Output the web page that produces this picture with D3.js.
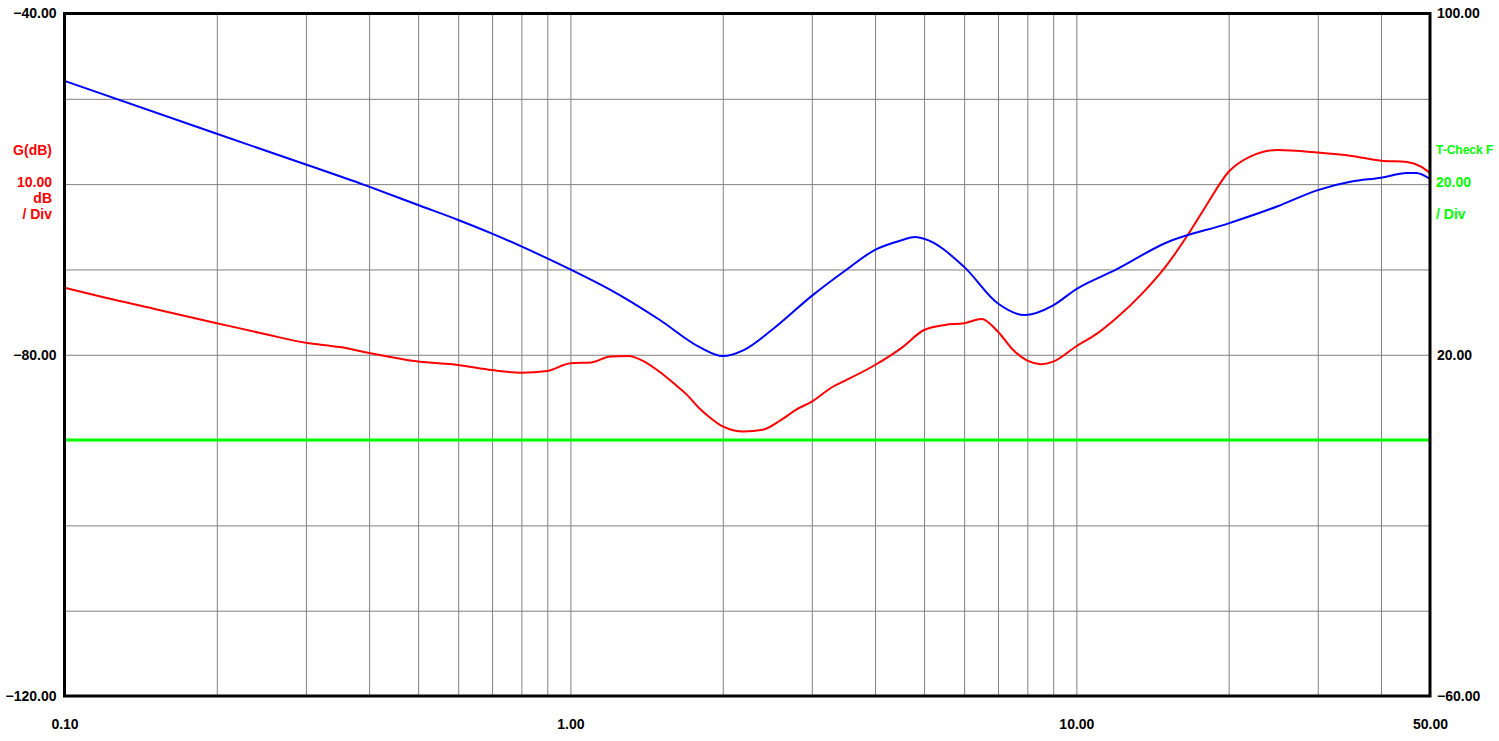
<!DOCTYPE html>
<html>
<head>
<meta charset="utf-8">
<script src="https://cdn.jsdelivr.net/npm/d3@7"></script>
<style>
  html, body { margin: 0; padding: 0; background: #fff; }
  svg { display: block; }
  text { font-family: "Liberation Sans", Arial, sans-serif; font-weight: bold; font-size: 14px; }
</style>
</head>
<body>
<svg id="chart" width="1499" height="741"></svg>
<script>
// ---- data ----
const freqTicks = [0.1, 1, 10, 50];
const leftTicks = [-40, -80, -120];
const rightTicks = [100, 20, -60];

// G(dB) trace (red), left axis
const gainFreq = [0.1, 0.12, 0.15, 0.2, 0.25, 0.3, 0.35, 0.4, 0.5, 0.6, 0.7, 0.8, 0.9, 1.0, 1.1, 1.2, 1.3, 1.4, 1.5, 1.6, 1.7, 1.8, 1.9, 2.0, 2.2, 2.4, 2.6, 2.8, 3.0, 3.3, 3.5, 4.0, 4.5, 5.0, 5.5, 6.0, 6.5, 7.0, 7.5, 8.0, 8.5, 9.0, 10, 11, 12, 13.5, 15, 16.5, 18, 20, 22, 25, 30, 35, 40, 45, 48, 50];
const gainDb   = [-72.15, -73.3, -74.6, -76.3, -77.6, -78.6, -79.1, -79.8, -80.8, -81.2, -81.8, -82.1, -81.9, -81.0, -80.9, -80.2, -80.15, -80.8, -82.0, -83.35, -84.7, -86.3, -87.5, -88.4, -89.0, -88.8, -87.7, -86.4, -85.5, -83.75, -83.0, -81.2, -79.25, -77.1, -76.5, -76.3, -75.8, -77.3, -79.45, -80.7, -81.1, -80.8, -79.0, -77.5, -75.7, -72.8, -69.7, -66.2, -62.65, -58.55, -56.8, -56.0, -56.3, -56.7, -57.25, -57.4, -57.95, -58.7];

// blue trace, expressed on left-axis units
const blueFreq = [0.1, 0.2, 0.3, 0.4, 0.5, 0.6, 0.7, 0.8, 0.9, 1.0, 1.2, 1.5, 1.8, 2.0, 2.2, 2.5, 3.0, 3.5, 4.0, 4.5, 4.8, 5.0, 6.0, 7.0, 7.9, 9.0, 10, 12, 15, 20, 25, 30, 35, 40, 45, 47, 50];
const blueVal  = [-47.9, -54.1, -57.7, -60.3, -62.45, -64.2, -65.8, -67.3, -68.7, -70.0, -72.4, -75.9, -79.1, -80.15, -79.45, -77.1, -73.1, -70.1, -67.7, -66.6, -66.2, -66.4, -69.7, -74.0, -75.35, -74.2, -72.3, -70.0, -66.9, -64.6, -62.6, -60.7, -59.7, -59.25, -58.7, -58.7, -59.4];

// T-Check trace (green), right axis
const checkFreq = [0.1, 50];
const checkVal  = [0, 0];

// ---- scales ----
const svg = d3.select("#chart");
const L = 64.5, R = 1430, T = 13.5, B = 696;
const x = d3.scaleLog().domain([0.1, 50]).range([L, R]);
const yL = d3.scaleLinear().domain([-120, -40]).range([B, T]);
const yR = d3.scaleLinear().domain([-60, 100]).range([B, T]);

// ---- grid ----
const gridFreqs = [];
for (let e = -1; e <= 1; e++) for (let m = 1; m <= 9; m++) {
  const f = +(m * Math.pow(10, e)).toPrecision(3);
  if (f > 0.1 && f < 50) gridFreqs.push(f);
}
const gridX = svg.append("g").attr("transform", `translate(0,${B})`)
  .call(d3.axisBottom(x).tickValues(gridFreqs).tickSize(-(B - T)).tickFormat(""));
gridX.select(".domain").remove();
gridX.selectAll("line").attr("stroke", "#808080").attr("stroke-width", 1);

const gridY = svg.append("g").attr("transform", `translate(${L},0)`)
  .call(d3.axisLeft(yL).tickValues(d3.range(-110, -40, 10)).tickSize(-(R - L)).tickFormat(""));
gridY.select(".domain").remove();
gridY.selectAll("line").attr("stroke", "#808080").attr("stroke-width", 1);

// ---- traces ----
const lineL = d3.line().x(d => x(d[0])).y(d => yL(d[1])).curve(d3.curveMonotoneX);
const lineR = d3.line().x(d => x(d[0])).y(d => yR(d[1]));

svg.append("path").datum(d3.zip(checkFreq, checkVal)).attr("d", lineR)
  .attr("fill", "none").attr("stroke", "#00ff00").attr("stroke-width", 3);
svg.append("path").datum(d3.zip(gainFreq, gainDb)).attr("d", lineL)
  .attr("fill", "none").attr("stroke", "#ff0000").attr("stroke-width", 2);
svg.append("path").datum(d3.zip(blueFreq, blueVal)).attr("d", lineL)
  .attr("fill", "none").attr("stroke", "#0000ff").attr("stroke-width", 2);

// ---- frame ----
svg.append("rect").attr("x", L).attr("y", T).attr("width", R - L).attr("height", B - T)
  .attr("fill", "none").attr("stroke", "#000").attr("stroke-width", 3);

// ---- axes labels ----
const fmt = d3.format(".2f");
const axB = svg.append("g").attr("transform", `translate(0,${B})`)
  .call(d3.axisBottom(x).tickValues(freqTicks).tickFormat(fmt).tickSize(0).tickPadding(23));
axB.select(".domain").remove();
axB.selectAll("text").attr("fill", "#000").style("font-size", "14px").style("font-family", "Liberation Sans, Arial, sans-serif");

const axL = svg.append("g").attr("transform", `translate(${L},0)`)
  .call(d3.axisLeft(yL).tickValues(leftTicks).tickFormat(fmt).tickSize(0).tickPadding(8));
axL.select(".domain").remove();
axL.selectAll("text").attr("fill", "#000").style("font-size", "14px").style("font-family", "Liberation Sans, Arial, sans-serif");

const axR = svg.append("g").attr("transform", `translate(${R},0)`)
  .call(d3.axisRight(yR).tickValues(rightTicks).tickFormat(fmt).tickSize(0).tickPadding(7));
axR.select(".domain").remove();
axR.selectAll("text").attr("fill", "#000").style("font-size", "14px").style("font-family", "Liberation Sans, Arial, sans-serif");

// ---- channel labels ----
const leftLab = [["G(dB)", 150], ["10.00", 182], ["dB", 198], ["/ Div", 214]];
svg.append("g").selectAll("text").data(leftLab).join("text")
  .attr("x", 52).attr("y", d => d[1]).attr("dy", "0.35em").attr("text-anchor", "end")
  .attr("fill", "#ff0000").text(d => d[0]);

const rightLab = [["T-Check F", 150, "12px"], ["20.00", 182, "14px"], ["/ Div", 214, "14px"]];
svg.append("g").selectAll("text").data(rightLab).join("text")
  .attr("x", 1436).attr("y", d => d[1]).attr("dy", "0.35em").attr("text-anchor", "start")
  .style("font-size", d => d[2])
  .attr("fill", "#00ff00").text(d => d[0]);
</script>
</body>
</html>
